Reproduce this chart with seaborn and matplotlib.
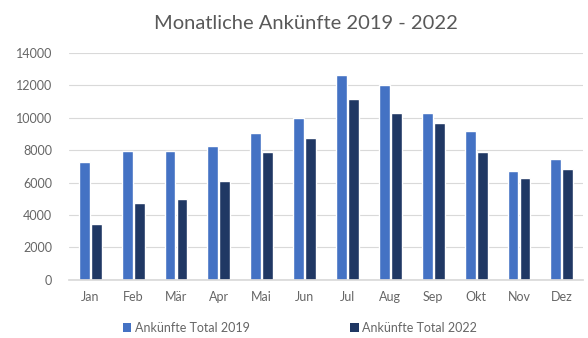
import matplotlib
matplotlib.use("Agg")
import matplotlib.pyplot as plt
import seaborn as sns
import pandas as pd
from matplotlib.patches import Patch

months = ["Jan", "Feb", "Mär", "Apr", "Mai", "Jun", "Jul", "Aug", "Sep", "Okt", "Nov", "Dez"]
arrivals_2019 = [7300, 7950, 7950, 8250, 9050, 10000, 12650, 12000, 10300, 9200, 6750, 7450]
arrivals_2022 = [3450, 4750, 5000, 6100, 7900, 8750, 11150, 10300, 9700, 7900, 6300, 6850]
series_names = ["Ankünfte Total 2019", "Ankünfte Total 2022"]
y_ticks = [0, 2000, 4000, 6000, 8000, 10000, 12000, 14000]

df = pd.DataFrame({
    "Monat": months * 2,
    "Ankünfte": arrivals_2019 + arrivals_2022,
    "Serie": [series_names[0]] * 12 + [series_names[1]] * 12,
})

sns.set_theme(style="white")
plt.rcParams["font.family"] = ["Lato", "DejaVu Sans"]

colors = ["#4472C4", "#203864"]
fig = plt.figure(figsize=(5.88, 3.38), dpi=100)
ax = fig.add_axes([0.117, 0.172, 0.875, 0.671])

sns.barplot(data=df, x="Monat", y="Ankünfte", hue="Serie", order=months,
            hue_order=series_names, palette=colors, width=0.56, gap=0.09,
            saturation=1, legend=False, ax=ax)

ax.set_ylim(0, 14000)
ax.set_xlim(-0.5, 11.5)
ax.set_yticks(y_ticks)
ax.set_yticklabels([str(t) for t in y_ticks])
ax.yaxis.grid(True, color="#d9d9d9", linewidth=0.8)
ax.set_axisbelow(True)
for side in ["top", "right", "left"]:
    ax.spines[side].set_visible(False)
ax.spines["bottom"].set_color("#d9d9d9")
ax.set_xlabel("")
ax.set_ylabel("")
ax.tick_params(axis="both", length=0, labelsize=9, labelcolor="#666666")
ax.tick_params(axis="x", pad=8)
ax.tick_params(axis="y", pad=12)

fig.suptitle("Monatliche Ankünfte 2019 - 2022", x=0.52, y=0.955,
             fontsize=14.5, color="#595959")

handles = [Patch(facecolor=c, edgecolor="none") for c in colors]
fig.legend(handles, series_names, loc="center", bbox_to_anchor=(0.51, 0.03),
           ncol=2, frameon=False, fontsize=9, labelcolor="#666666",
           handlelength=0.7, handleheight=0.7, handletextpad=0.3,
           columnspacing=8)

fig.savefig("out.png", dpi=100, facecolor="white")
